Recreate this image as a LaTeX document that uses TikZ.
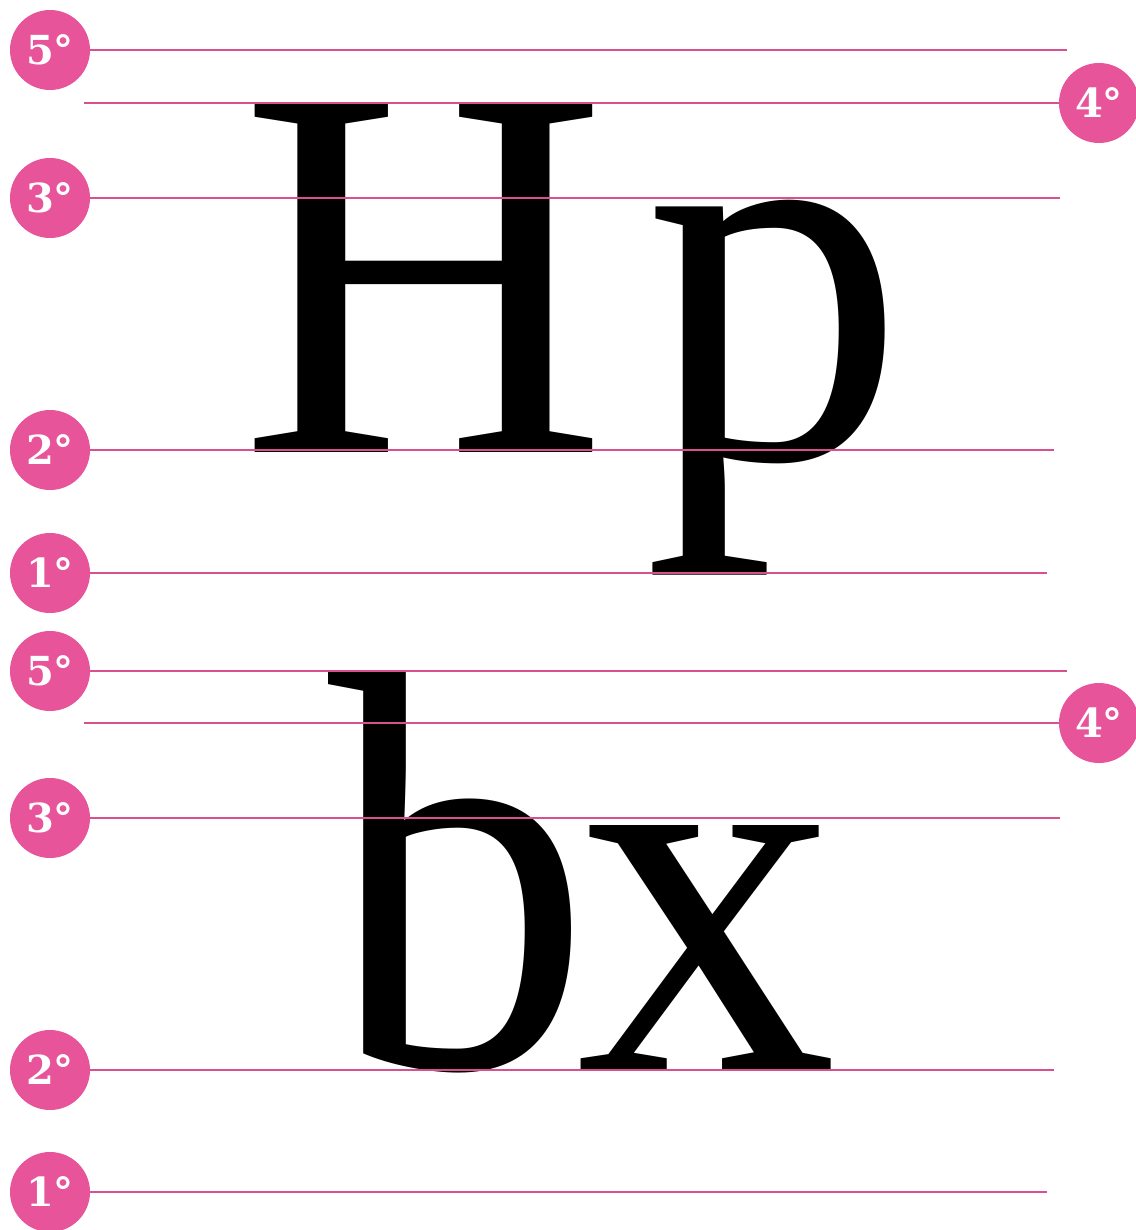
\documentclass[tikz,border=0pt]{standalone}
\usepackage{fontspec}
\setmainfont{Liberation Serif}
\newfontfamily\numfont{DejaVu Serif}
\newfontfamily\glyphfont{Liberation Serif}
\usepackage{graphicx}
\definecolor{pinkc}{HTML}{E8549A}
\definecolor{pinkl}{HTML}{D9508F}
\begin{document}
\begin{tikzpicture}[x=0.5pt,y=-0.5pt,
  badge/.style={circle,fill=pinkc,minimum size=40pt,inner sep=0pt,text=white,
    font=\numfont\bfseries\fontsize{20}{20}\selectfont},
  guide/.style={draw=pinkl,line width=1pt},
  glyph/.style={inner sep=0pt,anchor=north west,font=\glyphfont\fontsize{100}{100}\selectfont}]
\useasboundingbox (0,0) rectangle (1135,1230);
\fill[white] (0,0) rectangle (1135,1230);
% letters
\node[glyph] (H) at (240,103) {\resizebox*{183.5pt}{174.5pt}{H}};
\node[glyph] (p) at (644,200) {\resizebox*{130.5pt}{187.5pt}{p}};
\node[glyph] (b) at (328,672) {\resizebox*{131.5pt}{200.5pt}{b}};
\node[glyph] (x) at (576,825) {\resizebox*{130.5pt}{122.5pt}{x}};
% coordinates for line ends
\coordinate (e5a) at (1067,50);
\coordinate (s4a) at (84,103);
\coordinate (e3a) at (1060,198);
\coordinate (e2a) at (1054,450);
\coordinate (e1a) at (1047,573);
\coordinate (e5b) at (1067,671);
\coordinate (s4b) at (84,723);
\coordinate (e3b) at (1060,818);
\coordinate (e2b) at (1054,1070);
\coordinate (e1b) at (1047,1192);
% badges
\node[badge] (c5a) at (50,50) {5°};
\node[badge] (c4a) at (1099,103) {4°};
\node[badge] (c3a) at (50,198) {3°};
\node[badge] (c2a) at (50,450) {2°};
\node[badge] (c1a) at (50,573) {1°};
\node[badge] (c5b) at (50,671) {5°};
\node[badge] (c4b) at (1099,723) {4°};
\node[badge] (c3b) at (50,818) {3°};
\node[badge] (c2b) at (50,1070) {2°};
\node[badge] (c1b) at (50,1192) {1°};
% guide lines
\draw[guide] (c5a.east) -- (e5a);
\draw[guide] (s4a) -- (c4a.west);
\draw[guide] (c3a.east) -- (e3a);
\draw[guide] (c2a.east) -- (e2a);
\draw[guide] (c1a.east) -- (e1a);
\draw[guide] (c5b.east) -- (e5b);
\draw[guide] (s4b) -- (c4b.west);
\draw[guide] (c3b.east) -- (e3b);
\draw[guide] (c2b.east) -- (e2b);
\draw[guide] (c1b.east) -- (e1b);
\end{tikzpicture}
\end{document}
